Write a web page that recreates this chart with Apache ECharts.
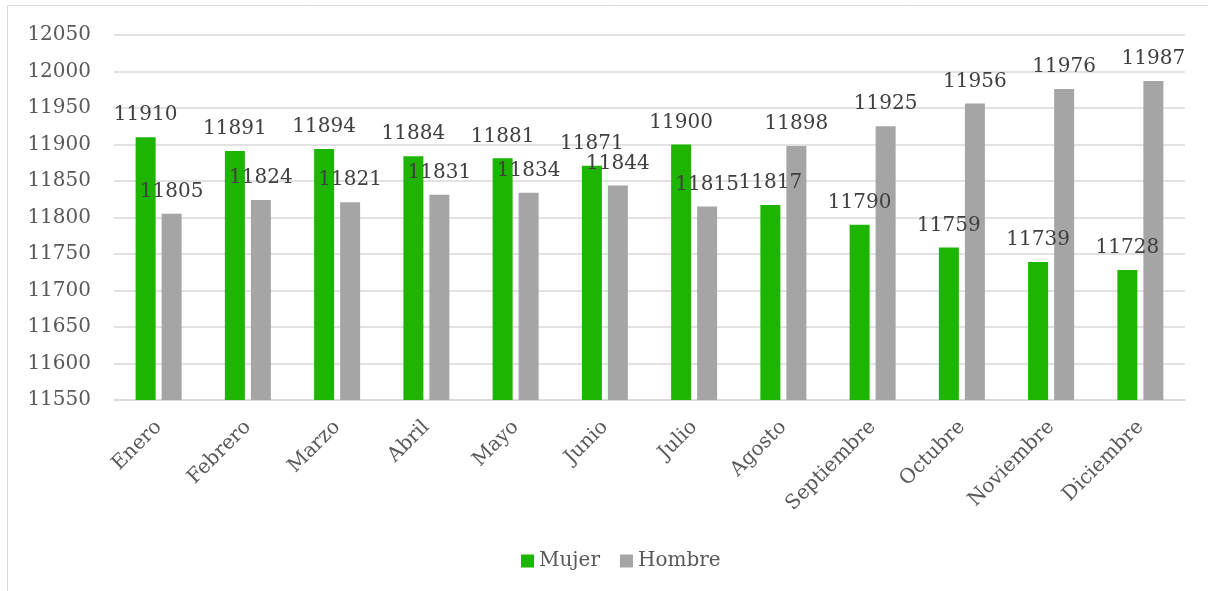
<!DOCTYPE html>
<html>
<head>
<meta charset="utf-8">
<script src="https://cdn.jsdelivr.net/npm/echarts@6/dist/echarts.min.js"></script>
<style>
html,body{margin:0;padding:0;background:#fff;}
#c{width:1208px;height:591px;}
</style>
</head>
<body>
<div id="c"></div>
<script>
const categories = ['Enero','Febrero','Marzo','Abril','Mayo','Junio','Julio','Agosto','Septiembre','Octubre','Noviembre','Diciembre'];
const mujer = [11910, 11891, 11894, 11884, 11881, 11871, 11900, 11817, 11790, 11759, 11739, 11728];
const hombre = [11805, 11824, 11821, 11831, 11834, 11844, 11815, 11898, 11925, 11956, 11976, 11987];
const seriesNames = ['Mujer', 'Hombre'];

const FONT = 'DejaVu Serif';
const chart = echarts.init(document.getElementById('c'));
chart.setOption({
  animation: false,
  backgroundColor: '#fff',
  graphic: [{
    type: 'rect',
    shape: {x: 7.5, y: 5.5, width: 1300, height: 700},
    style: {fill: 'none', stroke: '#d9d9d9', lineWidth: 1},
    silent: true
  }],
  grid: {left: 114, right: 23, top: 35, bottom: 191, containLabel: false},
  legend: {
    data: seriesNames,
    left: 516,
    top: 546,
    icon: 'rect',
    itemWidth: 13,
    itemHeight: 13,
    itemGap: 20,
    textStyle: {fontFamily: FONT, fontSize: 20, color: '#595959'}
  },
  xAxis: {
    type: 'category',
    data: categories,
    axisLine: {lineStyle: {color: '#d9d9d9', width: 1.5}},
    axisTick: {show: false},
    axisLabel: {rotate: 45, margin: 24, fontFamily: FONT, fontSize: 20, color: '#595959', interval: 0}
  },
  yAxis: {
    type: 'value',
    min: 11550,
    max: 12050,
    interval: 50,
    axisLine: {show: false},
    axisTick: {show: false},
    splitLine: {lineStyle: {color: '#d9d9d9', width: 1.5}},
    axisLabel: {margin: 23, fontFamily: FONT, fontSize: 20, color: '#595959', formatter: v => String(v)}
  },
  series: [
    {
      name: seriesNames[0], type: 'bar', data: mujer, barWidth: 20, barGap: '30%',
      itemStyle: {color: '#1db500'},
      label: {show: true, position: 'top', distance: 12, fontFamily: FONT, fontSize: 20, color: '#404040'}
    },
    {
      name: seriesNames[1], type: 'bar', data: hombre, barWidth: 20,
      itemStyle: {color: '#a5a5a5'},
      label: {show: true, position: 'top', distance: 12, fontFamily: FONT, fontSize: 20, color: '#404040'}
    }
  ]
});
</script>
</body>
</html>
